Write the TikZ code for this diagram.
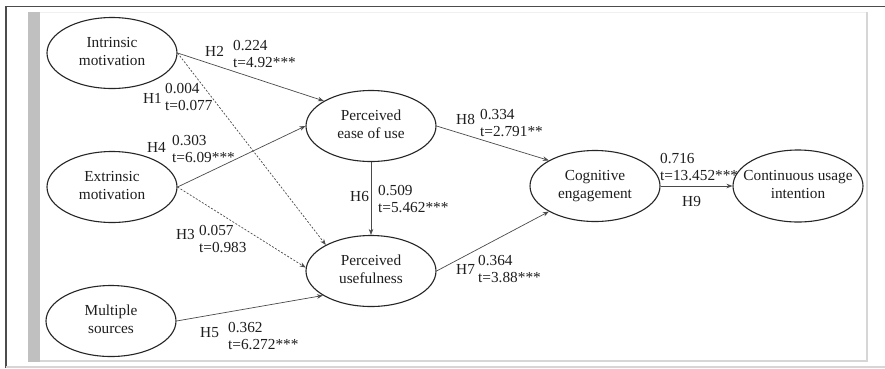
\documentclass[tikz,border=0pt]{standalone}
\usepackage{fontspec}
\setmainfont{Liberation Serif}
\usetikzlibrary{shapes.geometric,arrows.meta}
\definecolor{linec}{HTML}{4A4A4A}
\definecolor{txt}{HTML}{1E1E1E}
\definecolor{barc}{HTML}{C0C0C0}
\definecolor{shadc}{HTML}{D6D6D6}
\newcommand{\ctxt}[1]{\makebox[0pt]{\begin{tabular}{@{}c@{}}#1\end{tabular}}}
\begin{document}
\begin{tikzpicture}[x=1pt,y=-1pt,
  lat/.style={ellipse, draw=black!85, line width=1.1pt, minimum width=130pt, minimum height=71pt, inner sep=0pt, font=\fontsize{15.3}{18.5}\selectfont, text=txt},
  conn/.style={draw=linec, line width=0.7pt, -{Stealth[length=6pt,width=4.5pt]}},
  dconn/.style={conn, dash pattern=on 2pt off 1.6pt},
  hlab/.style={anchor=west, inner sep=0pt, font=\fontsize{15.3}{18}\selectfont, text=txt},
  vlab/.style={anchor=north west, inner sep=0pt, align=left, font=\fontsize{15.3}{17.5}\selectfont, text=txt}]
\useasboundingbox (0,0) rectangle (885,368);
% frame
\fill[white] (0,0) rectangle (885,368);
\draw[line width=1.8pt, color=black!70] (5,6.5) -- (885,6.5);
\draw[line width=1.4pt, color=black!70] (6,6) -- (6,368);
\draw[line width=1.4pt, color=shadc] (6,367) -- (885,367);
\fill[barc] (28,12) rectangle (40,362);
\draw[line width=0.6pt, color=black!6] (40,12.3) -- (866,12.3);
\draw[line width=2pt, color=shadc] (867,12) -- (867,362);
\draw[line width=2pt, color=shadc] (40,361) -- (868,361);
% latent variables
\node[lat] (intr) at (112,53) {\ctxt{Intrinsic\\motivation}};
\node[lat] (extr) at (112,187) {\ctxt{Extrinsic\\motivation}};
\node[lat] (mult) at (111,321) {\ctxt{Multiple\\sources}};
\node[lat] (peou) at (371,126) {\ctxt{Perceived\\ease of use}};
\node[lat] (pu) at (371,271) {\ctxt{Perceived\\usefulness}};
\node[lat] (ce) at (595,186) {\ctxt{Cognitive\\engagement}};
\node[lat, minimum height=72pt] (cui) at (798,186) {\ctxt{Continuous usage\\intention}};
% paths
\draw[conn] (intr.east) -- (peou.152);
\draw[dconn] (intr.east) -- (pu.150);
\draw[conn] (extr.east) -- (peou.west);
\draw[dconn] (extr.east) -- (pu.177);
\draw[conn] (mult.east) -- (pu.207);
\draw[conn] (peou.south) -- (pu.north);
\draw[conn] (peou.east) -- (ce.151);
\draw[conn] (pu.east) -- (ce.209);
\draw[conn] (ce.east) -- (cui.west);
% labels
\node[hlab] (h2) at (205,51) {H2};
\node[vlab] (v2) at (233,40) {0.224\\t=4.92***};
\node[hlab] (h1) at (143,98) {H1};
\node[vlab] (v1) at (165,83) {0.004\\t=0.077};
\node[hlab] (h4) at (147,147) {H4};
\node[vlab] (v4) at (172,135) {0.303\\t=6.09***};
\node[hlab] (h3) at (176,235) {H3};
\node[vlab] (v3) at (199,225) {0.057\\t=0.983};
\node[hlab] (h5) at (200,333) {H5};
\node[vlab] (v5) at (228,322) {0.362\\t=6.272***};
\node[hlab] (h8) at (456,119) {H8};
\node[vlab] (v8) at (480,109) {0.334\\t=2.791**};
\node[hlab] (h6) at (350,197) {H6};
\node[vlab] (v6) at (378,185) {0.509\\t=5.462***};
\node[hlab] (h7) at (456,269) {H7};
\node[vlab] (v7) at (478,255) {0.364\\t=3.88***};
\node[vlab] (v9) at (660,153) {0.716\\t=13.452***};
\node[hlab] (h9) at (682,202) {H9};
\end{tikzpicture}
\end{document}
